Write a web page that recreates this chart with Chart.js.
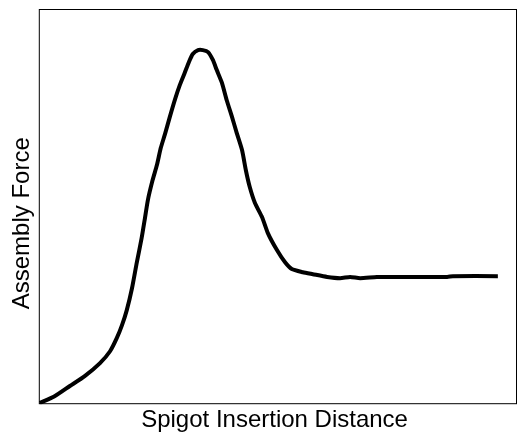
<!DOCTYPE html>
<html>
<head>
<meta charset="utf-8">
<script src="https://cdn.jsdelivr.net/npm/chart.js@4"></script>
<style>
  html, body { margin: 0; padding: 0; background: #fff; }
  #wrap { width: 518px; height: 435px; }
</style>
</head>
<body>
<div id="wrap"><canvas id="forceChart"></canvas></div>
<script>
// insertion distance (arbitrary units, 0-100)
const distance = [0.2, 3.3, 6.5, 9.6, 12.8, 14.9, 16.3, 17.4, 18.4, 19.5, 20.5, 21.5, 22.2, 22.8, 23.8, 24.7,
  25.5, 26.4, 27.4, 28.5, 29.5, 30.5, 31.4, 32.2, 33.3, 34.3, 35.4, 36.4, 37.2, 38.3, 39.3, 40.4,
  41.4, 42.5, 43.3, 44.1, 45.2, 46.7, 47.9, 49.8, 51.5, 52.9, 55.2, 57.3, 60.3, 63.0, 65.1, 67.2,
  70.7, 75.5, 85.4, 86.6, 96.0];
// assembly force (arbitrary units, 0-100)
const force = [0.3, 2.0, 4.6, 7.1, 10.4, 13.4, 16.7, 20.0, 23.8, 29.4, 35.9, 42.0, 47.1, 51.6, 56.7, 60.5,
  64.8, 68.4, 72.7, 77.2, 80.8, 83.8, 86.6, 88.6, 89.6, 89.6, 89.1, 87.1, 84.6, 81.3, 76.9, 72.7,
  68.6, 64.3, 59.2, 55.0, 50.9, 47.3, 43.3, 39.0, 35.9, 34.2, 33.4, 32.9, 32.2, 31.9, 32.2, 31.9,
  32.2, 32.2, 32.2, 32.4, 32.4];

const points = distance.map((d, i) => ({ x: d, y: force[i] }));

// frame around plot area
const frame = {
  id: 'frame',
  afterDraw(chart) {
    const a = chart.chartArea, ctx = chart.ctx;
    ctx.save();
    ctx.strokeStyle = '#000';
    ctx.lineWidth = 1;
    ctx.strokeRect(a.left + 0.5, a.top + 0.5, a.right - a.left - 1, a.bottom - a.top - 1);
    ctx.restore();
  }
};

const ctx = document.getElementById('forceChart').getContext('2d');
new Chart(ctx, {
  type: 'line',
  data: {
    datasets: [{
      data: points,
      borderColor: '#000',
      borderWidth: 4,
      pointRadius: 0,
      fill: false,
      tension: 0.2
    }]
  },
  options: {
    responsive: true,
    maintainAspectRatio: false,
    animation: false,
    layout: { padding: { left: 0, top: 9, right: 1, bottom: 0 } },
    plugins: { legend: { display: false }, tooltip: { enabled: false } },
    scales: {
      x: {
        type: 'linear',
        min: 0,
        max: 100,
        grid: { display: false, drawTicks: false },
        border: { display: false },
        ticks: { display: false },
        title: {
          display: true,
          text: 'Spigot Insertion Distance ',
          color: '#000',
          font: { family: 'Liberation Sans, Arial, sans-serif', size: 24 },
          padding: { top: 2, bottom: 0 }
        }
      },
      y: {
        min: 0,
        max: 100,
        grid: { display: false, drawTicks: false },
        border: { display: false },
        ticks: { display: false },
        title: {
          display: true,
          // trailing spaces nudge the label down a little, as in the original
          text: 'Assembly Force     ',
          color: '#000',
          font: { family: 'Liberation Sans, Arial, sans-serif', size: 24 },
          padding: { top: 8, bottom: 2 }
        }
      }
    }
  },
  plugins: [frame]
});
</script>
</body>
</html>
